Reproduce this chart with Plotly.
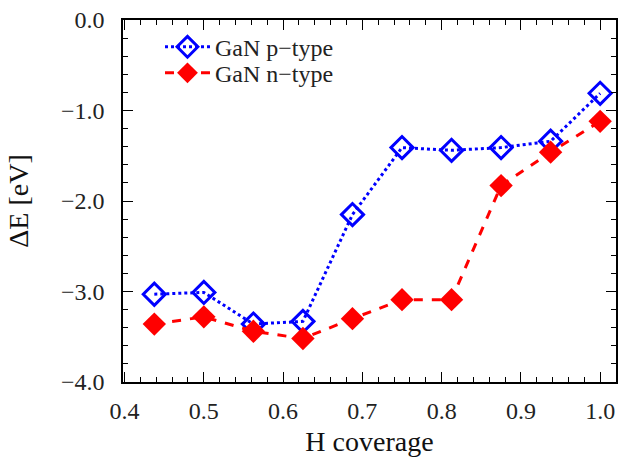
import plotly.graph_objects as go

coverage = [0.4375, 0.5, 0.5625, 0.625, 0.6875, 0.75, 0.8125, 0.875, 0.9375, 1.0]
p_type = [-3.03, -3.01, -3.36, -3.33, -2.15, -1.41, -1.44, -1.41, -1.34, -0.81]
n_type = [-3.36, -3.28, -3.44, -3.52, -3.30, -3.09, -3.09, -1.83, -1.46, -1.12]

x_range = [0.398, 1.02]
y_range = [-4.0, 0.0]

font_family = "Liberation Serif"

fig = go.Figure()
fig.add_trace(go.Scatter(
    x=coverage, y=p_type, mode="lines+markers", name="GaN p\u2212type",
    legend="legend", showlegend=True,
    line=dict(color="#0000ff", width=3, dash="dot"),
    marker=dict(symbol="diamond-open", size=17, color="#0000ff", line=dict(width=3, color="#0000ff")),
))
# second series drawn on the overlaid (mirrored, identical-range) axes so top/right ticks render
fig.add_trace(go.Scatter(
    x=coverage, y=n_type, mode="lines+markers", name="GaN n\u2212type",
    xaxis="x2", yaxis="y2",
    legend="legend2", showlegend=True,
    line=dict(color="#ff0000", width=3, dash="dash"),
    marker=dict(symbol="diamond", size=18, color="#ff0000"),
))

tick_common = dict(
    ticks="inside", ticklen=10, tickwidth=1.2, tickcolor="black",
    showgrid=False, zeroline=False, automargin=False,
)
axis_common = dict(
    showline=True, linecolor="black", linewidth=1.5, mirror=True,
    ticklabeloverflow="allow",
    tickfont=dict(family=font_family, size=24, color="#222"),
    **tick_common,
)
x_minor = dict(tick0=0.4, dtick=0.02, ticks="inside", ticklen=5, tickwidth=1.2, tickcolor="black", showgrid=False)
y_minor = dict(dtick=0.2, ticks="inside", ticklen=5, tickwidth=1.2, tickcolor="black", showgrid=False)

fig.update_layout(
    xaxis=dict(
        range=x_range, tick0=0.4, dtick=0.1, tickformat=".1f", ticklabelstandoff=6,
        minor=x_minor,
        title=dict(text="H coverage", font=dict(family=font_family, size=28, color="#111"), standoff=12),
        **axis_common,
    ),
    yaxis=dict(
        range=y_range, dtick=1.0, tickformat=".1f", ticklabelstandoff=12,
        minor=y_minor,
        title=dict(text="\u0394E [eV]", font=dict(family=font_family, size=28, color="#111"), standoff=24),
        **axis_common,
    ),
    xaxis2=dict(
        range=x_range, tick0=0.4, dtick=0.1, overlaying="x", side="top",
        showticklabels=False, showline=False, minor=x_minor, **tick_common,
    ),
    yaxis2=dict(
        range=y_range, dtick=1.0, overlaying="y", side="right",
        showticklabels=False, showline=False, minor=y_minor, **tick_common,
    ),
)

legend_style = dict(
    xanchor="left", yanchor="top", bgcolor="rgba(0,0,0,0)",
    font=dict(family=font_family, size=24, color="#222"), itemwidth=45,
)

fig.update_layout(
    width=622, height=457,
    margin=dict(l=123, r=6, t=20, b=75),
    plot_bgcolor="white", paper_bgcolor="white",
    separators=".\u2212",
    showlegend=True,
    legend=dict(x=0.075, y=0.987, **legend_style),
    legend2=dict(x=0.075, y=0.915, **legend_style),
)

fig.write_html("out.html")
